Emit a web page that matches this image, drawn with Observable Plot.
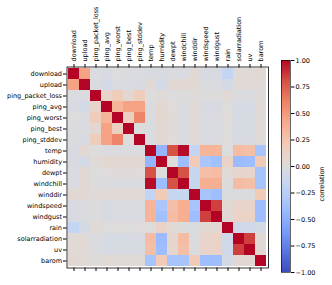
<!DOCTYPE html>
<html>
<head>
<meta charset="utf-8">
<script src="https://cdn.jsdelivr.net/npm/d3@7"></script>
<script src="https://cdn.jsdelivr.net/npm/@observablehq/plot@0.6"></script>
<style>
  html, body { margin: 0; padding: 0; background: #fff; }
  #wrap { position: relative; width: 332px; height: 285px; }
  #wrap svg { position: absolute; top: 0; }
</style>
</head>
<body>
<div id="wrap"></div>
<script>
const variables = ["download","upload","ping_packet_loss","ping_avg","ping_worst","ping_best","ping_stddev","temp","humidity","dewpt","windchill","winddir","windspeed","windgust","rain","solarradiation","uv","barom"];

const corr = [
  [1, 0.45, -0.02, -0.04, -0.01, -0.02, -0.02, -0.04, -0.04, -0.03, -0.03, 0.05, -0.04, -0.04, -0.18, 0.03, 0.03, 0.05],
  [0.45, 1, -0.02, -0.07, -0.03, -0.03, -0.04, 0.05, -0.07, 0.05, 0.05, 0.05, -0.02, -0.02, -0.07, 0.04, 0.03, 0.04],
  [-0.02, -0.02, 1, 0.1, 0.18, 0.06, 0.18, -0.01, 0.02, 0.0, -0.01, 0.02, 0.0, 0.0, 0.04, -0.02, -0.02, 0.01],
  [-0.04, -0.07, 0.1, 1, 0.35, 0.45, 0.45, -0.02, 0.06, 0.01, -0.02, 0.03, -0.04, -0.04, 0.0, -0.05, -0.05, 0.03],
  [-0.01, -0.03, 0.18, 0.35, 1, 0.15, 0.6, -0.02, 0.06, 0.02, -0.02, 0.03, -0.03, -0.03, 0.01, -0.05, -0.04, 0.02],
  [-0.02, -0.03, 0.06, 0.45, 0.15, 1, 0.0, -0.02, 0.05, 0.02, -0.02, 0.03, -0.03, -0.03, 0.0, -0.05, -0.04, 0.04],
  [-0.02, -0.04, 0.18, 0.45, 0.6, 0.0, 1, -0.02, 0.06, 0.01, -0.02, 0.03, -0.03, -0.03, 0.01, -0.04, -0.04, 0.02],
  [-0.04, 0.05, -0.01, -0.02, -0.02, -0.02, -0.02, 1, -0.45, 0.8, 0.98, -0.18, 0.35, 0.35, 0.0, 0.3, 0.28, -0.35],
  [-0.04, -0.07, 0.02, 0.06, 0.06, 0.05, 0.06, -0.45, 1, 0.0, -0.4, 0.2, -0.33, -0.38, 0.12, -0.42, -0.4, 0.2],
  [-0.03, 0.05, 0.0, 0.01, 0.02, 0.02, 0.01, 0.8, 0.0, 1, 0.8, -0.15, 0.28, 0.3, 0.04, 0.08, 0.08, -0.35],
  [-0.03, 0.05, -0.01, -0.02, -0.02, -0.02, -0.02, 0.98, -0.4, 0.8, 1, -0.15, 0.38, 0.38, 0.0, 0.3, 0.28, -0.35],
  [0.05, 0.05, 0.02, 0.03, 0.03, 0.03, 0.03, -0.18, 0.2, -0.15, -0.15, 1, -0.35, -0.4, -0.02, -0.02, -0.02, 0.2],
  [-0.04, -0.02, 0.0, -0.04, -0.03, -0.03, -0.03, 0.35, -0.33, 0.28, 0.38, -0.35, 1, 0.85, 0.05, 0.1, 0.1, -0.4],
  [-0.04, -0.02, 0.0, -0.04, -0.03, -0.03, -0.03, 0.35, -0.38, 0.3, 0.38, -0.4, 0.85, 1, 0.05, 0.12, 0.12, -0.4],
  [-0.18, -0.07, 0.04, 0.0, 0.01, 0.0, 0.01, 0.0, 0.12, 0.04, 0.0, -0.02, 0.05, 0.05, 1, -0.1, -0.1, -0.06],
  [0.03, 0.04, -0.02, -0.05, -0.05, -0.05, -0.04, 0.3, -0.42, 0.08, 0.3, -0.02, 0.1, 0.12, -0.1, 1, 0.85, 0.05],
  [0.03, 0.03, -0.02, -0.05, -0.04, -0.04, -0.04, 0.28, -0.4, 0.08, 0.28, -0.02, 0.1, 0.12, -0.1, 0.85, 1, 0.05],
  [0.05, 0.04, 0.01, 0.03, 0.02, 0.04, 0.02, -0.35, 0.2, -0.35, -0.35, 0.2, -0.4, -0.4, -0.06, 0.05, 0.05, 1]
];

const colorbarTicks = [-1, -0.75, -0.5, -0.25, 0, 0.25, 0.5, 0.75, 1];
const colorbarLabel = "correlation";

// coolwarm palette stops
const coolwarm = ["#3b4cc0","#5977e3","#7b9ff9","#9ebeff","#c0d4f5","#dddcdc","#f2cbb7","#f7ac8e","#ee8468","#d65244","#b40426"];
const interp = d3.piecewise(d3.interpolateRgb, coolwarm);

const cells = [];
variables.forEach((r, i) => variables.forEach((c, j) => cells.push({row: r, col: c, value: corr[i][j]})));

const font = "'DejaVu Sans', sans-serif";

const main = Plot.plot({
  width: 332,
  height: 285,
  marginLeft: 66.5,
  marginTop: 66.5,
  marginRight: 64,
  marginBottom: 17.5,
  style: {fontFamily: font, fontSize: "6.5px", color: "#000", background: "transparent"},
  x: {domain: variables, padding: 0, axis: null},
  y: {domain: variables, padding: 0, axis: null},
  color: {type: "linear", domain: [-1, 1], interpolate: interp},
  marks: [
    Plot.cell(cells, {x: "col", y: "row", fill: "value", inset: 0}),
    Plot.frame({stroke: "#000", strokeWidth: 0.8}),
    Plot.axisX({anchor: "top", tickSize: 3.5, tickFormat: () => "", label: null}),
    Plot.text(variables, {x: d => d, text: d => d, frameAnchor: "top", dy: -5.5, rotate: -90, textAnchor: "start", lineAnchor: "middle", fontSize: 6.5, fill: "#000"}),
    Plot.axisX({anchor: "bottom", tickSize: 3.5, tickFormat: () => "", label: null}),
    Plot.axisY({anchor: "left", tickSize: 3.5, tickPadding: 1.5, label: null, fontSize: 6.5, fill: "#000"})
  ]
});
main.style.left = "0px";

const steps = d3.range(-1, 1, 0.01).map(v => ({y1: v, y2: v + 0.01, v: v + 0.005}));

const bar = Plot.plot({
  width: 62,
  height: 285,
  marginLeft: 11,
  marginRight: 42,
  marginTop: 60,
  marginBottom: 13,
  style: {fontFamily: font, fontSize: "6.5px", color: "#000", background: "transparent"},
  x: {domain: [0, 1], axis: null},
  y: {domain: [-1, 1], axis: null},
  color: {type: "linear", domain: [-1, 1], interpolate: interp},
  marks: [
    Plot.rect(steps, {x1: 0, x2: 1, y1: "y1", y2: "y2", fill: "v", shapeRendering: "crispEdges"}),
    Plot.frame({stroke: "#000", strokeWidth: 0.6}),
    Plot.axisY({anchor: "right", ticks: colorbarTicks, tickSize: 3.5, tickPadding: 1.5, tickFormat: d3.format(".2f"), label: null, fontSize: 6.5, fill: "#000"}),
    Plot.text([colorbarLabel], {text: d => d, frameAnchor: "right", rotate: -90, dx: 31, fontSize: 6.5, fill: "#000"})
  ]
});
bar.style.left = "270px";

const wrap = document.getElementById("wrap");
wrap.appendChild(main);
wrap.appendChild(bar);
</script>
</body>
</html>
